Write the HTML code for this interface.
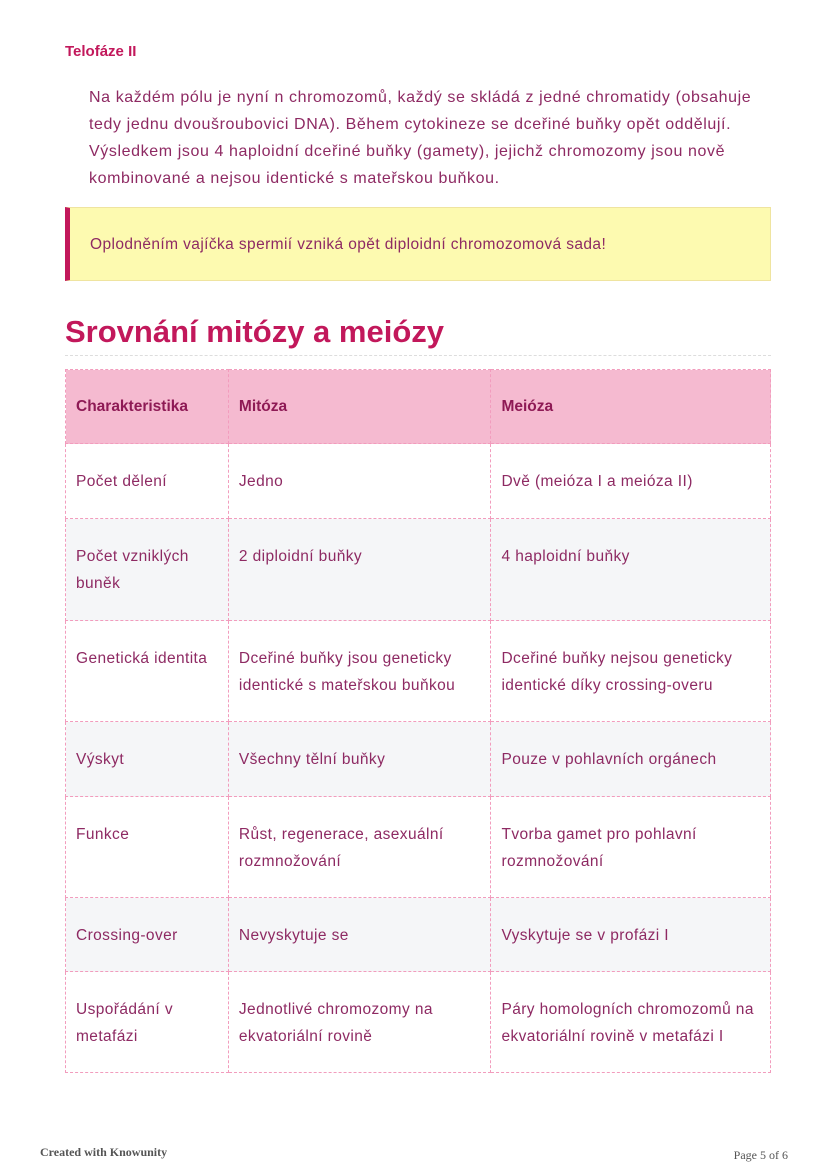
<!DOCTYPE html>
<html><head><meta charset="utf-8"><style>
*{margin:0;padding:0;box-sizing:border-box}
body{width:828px;height:1171px;background:#fff;font-family:"Liberation Sans",sans-serif;color:#8e2a63;position:relative;overflow:hidden}
.h4{position:absolute;left:65px;top:43px;font-weight:bold;font-size:15px;color:#c2185b}
.p{position:absolute;left:89px;top:84px;width:700px;font-size:16px;letter-spacing:0.6px;line-height:27px;white-space:nowrap}
.note{position:absolute;left:65px;top:207px;width:706px;height:74px;background:#fdfab0;border:1px solid #efe4a0;border-left:5px solid #c2185b;font-size:15.5px;letter-spacing:0.4px;padding:28px 0 0 20px}
h2{position:absolute;left:65px;top:314px;font-size:31px;color:#c2185b;font-weight:bold;width:706px;height:42px;border-bottom:1px dashed #ddd}
table{position:absolute;left:65px;top:369px;width:706px;border-collapse:collapse;font-size:15.5px;letter-spacing:0.4px;line-height:27px}
td,th{border:1px dashed #f29cbd;vertical-align:top;text-align:left;padding:0 10px}
th{background:#f5bad0;height:74px;vertical-align:middle;font-weight:bold;color:#8e1a55;letter-spacing:0}
tr.g td{background:#f5f6f8}
.f1{position:absolute;left:40px;top:1145px;font-family:"Liberation Serif",serif;font-weight:bold;font-size:12px;color:#555}
.f2{position:absolute;right:40px;top:1148px;font-family:"Liberation Serif",serif;font-size:12px;color:#555}
</style></head><body>
<div class="h4">Telofáze II</div>
<div class="p">Na každém pólu je nyní n chromozomů, každý se skládá z jedné chromatidy (obsahuje<br>tedy jednu dvoušroubovici DNA). Během cytokineze se dceřiné buňky opět oddělují.<br>Výsledkem jsou 4 haploidní dceřiné buňky (gamety), jejichž chromozomy jsou nově<br>kombinované a nejsou identické s mateřskou buňkou.</div>
<div class="note">Oplodněním vajíčka spermií vzniká opět diploidní chromozomová sada!</div>
<h2>Srovnání mitózy a meiózy</h2>
<table>
<colgroup><col style="width:163px"><col style="width:263px"><col style="width:280px"></colgroup>
<tr><th>Charakteristika</th><th>Mitóza</th><th>Meióza</th></tr>
<tr style="height:75px"><td style="padding-top:24px">Počet dělení</td><td style="padding-top:24px">Jedno</td><td style="padding-top:24px">Dvě (meióza I a meióza II)</td></tr>
<tr class="g" style="height:102px"><td style="padding-top:24px">Počet vzniklých buněk</td><td style="padding-top:24px">2 diploidní buňky</td><td style="padding-top:24px">4 haploidní buňky</td></tr>
<tr style="height:101px"><td style="padding-top:24px">Genetická identita</td><td style="padding-top:24px">Dceřiné buňky jsou geneticky identické s mateřskou buňkou</td><td style="padding-top:24px">Dceřiné buňky nejsou geneticky identické díky crossing-overu</td></tr>
<tr class="g" style="height:75px"><td style="padding-top:24px">Výskyt</td><td style="padding-top:24px">Všechny tělní buňky</td><td style="padding-top:24px">Pouze v pohlavních orgánech</td></tr>
<tr style="height:101px"><td style="padding-top:24px">Funkce</td><td style="padding-top:24px">Růst, regenerace, asexuální rozmnožování</td><td style="padding-top:24px">Tvorba gamet pro pohlavní rozmnožování</td></tr>
<tr class="g" style="height:74px"><td style="padding-top:24px">Crossing-over</td><td style="padding-top:24px">Nevyskytuje se</td><td style="padding-top:24px">Vyskytuje se v profázi I</td></tr>
<tr style="height:101px"><td style="padding-top:24px">Uspořádání v metafázi</td><td style="padding-top:24px">Jednotlivé chromozomy na ekvatoriální rovině</td><td style="padding-top:24px">Páry homologních chromozomů na ekvatoriální rovině v metafázi I</td></tr>
</table>
<div class="f1">Created with Knowunity</div>
<div class="f2">Page 5 of 6</div>
</body></html>
